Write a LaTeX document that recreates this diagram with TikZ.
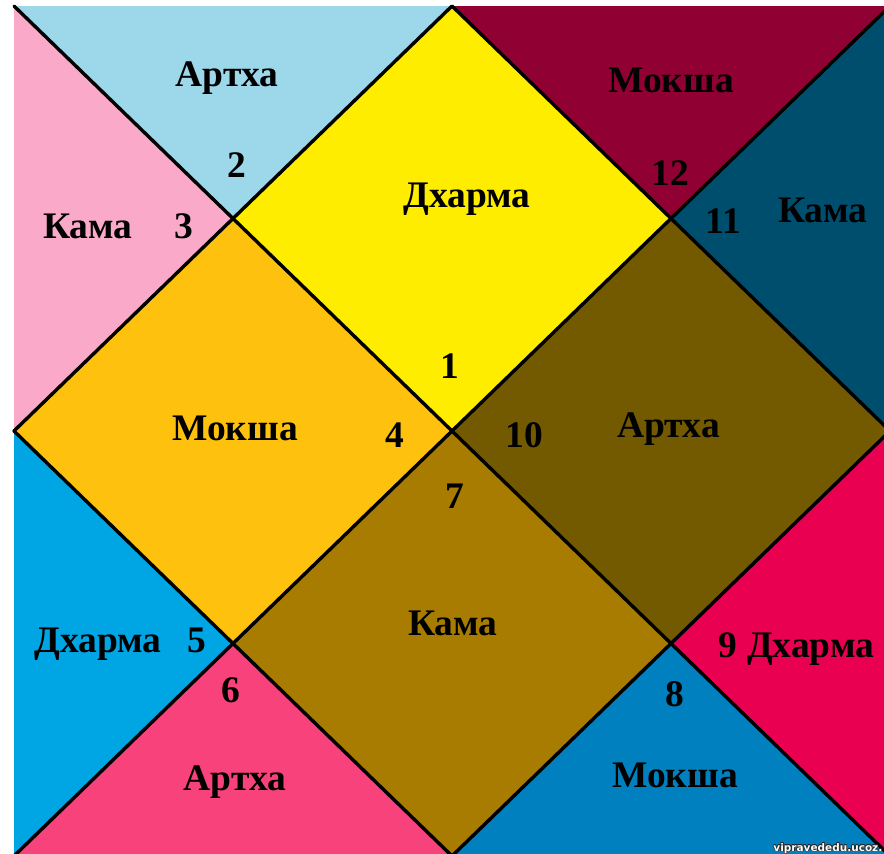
\documentclass[tikz,border=0pt]{standalone}
\usepackage{fontspec}
\setmainfont{Liberation Serif}
\newfontfamily\wmfont{DejaVu Sans}
\definecolor{cTwo}{RGB}{157,216,234}
\definecolor{cThree}{RGB}{250,170,200}
\definecolor{cOne}{RGB}{255,237,0}
\definecolor{cFour}{RGB}{254,194,14}
\definecolor{cSeven}{RGB}{167,124,0}
\definecolor{cTen}{RGB}{115,90,0}
\definecolor{cTwelve}{RGB}{145,0,50}
\definecolor{cEleven}{RGB}{0,78,110}
\definecolor{cFive}{RGB}{0,165,228}
\definecolor{cSix}{RGB}{247,66,124}
\definecolor{cEight}{RGB}{0,128,190}
\definecolor{cNine}{RGB}{234,0,80}
\begin{document}
\begin{tikzpicture}[x=1pt,y=-1pt,
  lbl/.style={font=\fontsize{37.5}{40}\selectfont\bfseries, anchor=base, inner sep=0pt, text=black},
  edgeline/.style={line width=3.4pt, draw=black, line cap=round, line join=round},
  wm/.style={font=\wmfont\fontsize{10.5}{12}\selectfont\bfseries, anchor=base east, inner sep=0pt}]
\useasboundingbox (0,0) rectangle (884,854);
\fill[white] (0,0) rectangle (884,854);
\clip (0,0) rectangle (884,854);
% corners and points
\coordinate (TL) at (14,6);
\coordinate (TR) at (890,6);
\coordinate (BL) at (14,856);
\coordinate (BR) at (890,856);
\coordinate (TM) at (452,6);
\coordinate (LM) at (14,431);
\coordinate (BM) at (452,856);
\coordinate (RM) at (890,431);
\coordinate (C) at (452,431);
\coordinate (P1) at (233,218.5);
\coordinate (P2) at (671,218.5);
\coordinate (P3) at (233,643.5);
\coordinate (P4) at (671,643.5);
% fills
\fill[cOne] (TM) -- (P1) -- (C) -- (P2) -- cycle;
\fill[cFour] (LM) -- (P1) -- (C) -- (P3) -- cycle;
\fill[cSeven] (BM) -- (P3) -- (C) -- (P4) -- cycle;
\fill[cTen] (RM) -- (P2) -- (C) -- (P4) -- cycle;
\fill[cTwo] (TL) -- (TM) -- (P1) -- cycle;
\fill[cThree] (TL) -- (LM) -- (P1) -- cycle;
\fill[cTwelve] (TM) -- (TR) -- (P2) -- cycle;
\fill[cEleven] (TR) -- (RM) -- (P2) -- cycle;
\fill[cFive] (LM) -- (BL) -- (P3) -- cycle;
\fill[cSix] (BL) -- (BM) -- (P3) -- cycle;
\fill[cEight] (BM) -- (BR) -- (P4) -- cycle;
\fill[cNine] (RM) -- (BR) -- (P4) -- cycle;
% lines
\draw[edgeline] (TL) -- (BR);
\draw[edgeline] (TR) -- (BL);
\draw[edgeline] (TM) -- (LM) -- (BM) -- (RM) -- cycle;
% labels
\node[lbl] (t2) at (227,86) {Артха};
\node[lbl] (n2) at (236.5,177) {2};
\node[lbl] (t3) at (88,238) {Кама};
\node[lbl] (n3) at (184,238) {3};
\node[lbl] (t1) at (467,207) {Дхарма};
\node[lbl] (n1) at (449.5,378) {1};
\node[lbl] (t12) at (671,92) {Мокша};
\node[lbl] (n12) at (670.5,185) {12};
\node[lbl] (n11) at (723.5,233) {11};
\node[lbl] (t11) at (823,222) {Кама};
\node[lbl] (t4) at (235,440) {Мокша};
\node[lbl] (n4) at (395,447) {4};
\node[lbl] (n10) at (524,447) {10};
\node[lbl] (t10) at (668.5,437) {Артха};
\node[lbl] (n7) at (455,508) {7};
\node[lbl] (t7) at (453,635) {Кама};
\node[lbl] (t5) at (98,652) {Дхарма};
\node[lbl] (n5) at (196.5,652) {5};
\node[lbl] (n6) at (231,702) {6};
\node[lbl] (t6) at (235,790) {Артха};
\node[lbl] (t9) at (796.5,657) {9 Дхарма};
\node[lbl] (n8) at (675,706) {8};
\node[lbl] (t8) at (675,787) {Мокша};
% watermark
\foreach \dx/\dy [count=\i] in {-0.7/0,0.7/0,0/-0.7,0/0.7,-0.5/-0.5,0.5/0.5,-0.5/0.5,0.5/-0.5}
  \node[wm, text=black!85] (wmshadow\i) at (882.5+\dx,851+\dy) {vipravededu.ucoz.};
\node[wm, text=white] (wmtext) at (882.5,851) {vipravededu.ucoz.};
\end{tikzpicture}
\end{document}
